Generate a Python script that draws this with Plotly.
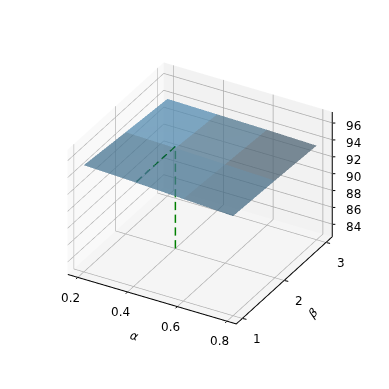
import plotly.graph_objects as go

alpha = [0.2, 0.4, 0.6, 0.8]
beta = [1, 2, 3]
acc = [
    [95.15, 94.9, 94.6, 94.3],
    [94.55, 94.4, 94.2, 94.0],
    [94.0, 93.9, 93.8, 93.65],
]
cell_colors = [
    ["#477592", "#477592", "#456b85"],
    ["#558bb0", "#517890", "#4e6575"],
]
best_alpha = 0.4
best_beta = 2
best_acc = 94.6
ticks_z = [84, 86, 88, 90, 92, 94, 96]
ticks_x = [0.2, 0.4, 0.6, 0.8]
ticks_y = [1, 2, 3]
xr = [0.16, 0.84]
yr = [0.85, 3.15]
zr = [82.5, 97.3]

na, nb = len(alpha), len(beta)
xs, ys, zs = [], [], []
for j, b in enumerate(beta):
    for i, a in enumerate(alpha):
        xs.append(a); ys.append(b); zs.append(acc[j][i])
I, J, K, FC = [], [], [], []
for j in range(nb - 1):
    for i in range(na - 1):
        p = j * na + i
        I += [p, p]
        J += [p + 1, p + na + 1]
        K += [p + na + 1, p + na]
        FC += [cell_colors[j][i]] * 2

fig = go.Figure()
fig.add_trace(go.Mesh3d(x=xs, y=ys, z=zs, i=I, j=J, k=K, facecolor=FC, flatshading=True,
                        opacity=0.75, hoverinfo="skip",
                        lighting=dict(ambient=1, diffuse=0, specular=0, fresnel=0),
                        showscale=False))

def dashed(p0, p1, n):
    X, Y, Z = [], [], []
    for k in range(n):
        t0 = k / n
        t1 = (k + 0.65) / n
        for t in (t0, t1):
            X.append(p0[0] + (p1[0] - p0[0]) * t)
            Y.append(p0[1] + (p1[1] - p0[1]) * t)
            Z.append(p0[2] + (p1[2] - p0[2]) * t)
        X.append(None); Y.append(None); Z.append(None)
    return X, Y, Z

def line3(X, Y, Z, color="#000", width=2):
    fig.add_trace(go.Scatter3d(x=X, y=Y, z=Z, mode="lines", hoverinfo="skip",
                               line=dict(color=color, width=width), showlegend=False))

X, Y, Z = dashed((best_alpha, best_beta, zr[0] + 0.02), (best_alpha, best_beta, best_acc), 8)
line3(X, Y, Z, "#008000", 3)
X, Y, Z = dashed((best_alpha, best_beta, best_acc), (best_alpha, beta[0], best_acc), 5)
line3(X, Y, Z, "#006030", 3)

eps = 0.002
line3([xr[0], xr[1] - eps, xr[1] - eps, xr[1] - eps],
      [yr[0] + eps, yr[0] + eps, yr[1] - eps, yr[1] - eps],
      [zr[0] + 0.02, zr[0] + 0.02, zr[0] + 0.02, zr[1]], "#000", 2)

def label(x, y, z, text, dx, dy, size=12, angle=0):
    return dict(x=x, y=y, z=z, text=text, showarrow=False, xshift=dx, yshift=-dy, textangle=angle,
                font=dict(size=size, family="DejaVu Sans", color="#000"))

def tick(x, y, z, dx, dy):
    return dict(x=x, y=y, z=z, text=" ", showarrow=True, arrowhead=0, arrowwidth=1,
                arrowcolor="#000", ax=dx, ay=dy, standoff=0, startstandoff=0,
                font=dict(size=1))

anns = []
for v in ticks_x:
    anns.append(label(v, yr[0], zr[0], str(v), -7, 20))
    anns.append(tick(v, yr[0], zr[0], -3, 3))
for v in ticks_y:
    anns.append(label(xr[1], v, zr[0], str(v), 14, 20))
    anns.append(tick(xr[1], v, zr[0], 5, 1))
for v in ticks_z:
    anns.append(label(xr[1], yr[1], v, str(v), 21, 3))
    anns.append(tick(xr[1], yr[1], v, 4, 0))
anns.append(label(0.5, yr[0], zr[0], "<i>α</i>", -18, 37, angle=15))
anns.append(label(xr[1], 2, zr[0], "<i>β</i>", 28, 32, angle=-45))

def ax(tv, bg, rng):
    return dict(title=dict(text=""), tickmode="array", tickvals=tv, showticklabels=False,
                range=rng, autorange=False,
                showbackground=True, backgroundcolor=bg, gridcolor="#aaaaaa", gridwidth=1.5,
                showline=False, ticks="", zeroline=False, showspikes=False)

fig.update_layout(
    width=389, height=389, margin=dict(l=0, r=0, t=0, b=0),
    paper_bgcolor="#fff", showlegend=False,
    scene=dict(
        xaxis=ax(ticks_x, "#f9f9f9", xr),
        yaxis=ax(ticks_y, "#f2f2f2", yr),
        zaxis=ax(ticks_z, "#f5f5f5", zr),
        annotations=anns,
        aspectmode="manual", aspectratio=dict(x=1, y=1, z=0.75),
        camera=dict(eye=dict(x=1.022, y=-1.774, z=1.18), center=dict(x=0.01, y=0.006, z=-0.055),
                    projection=dict(type="orthographic")),
        domain=dict(x=[0, 1], y=[0, 1]),
    ),
)
fig.write_html("out.html")
